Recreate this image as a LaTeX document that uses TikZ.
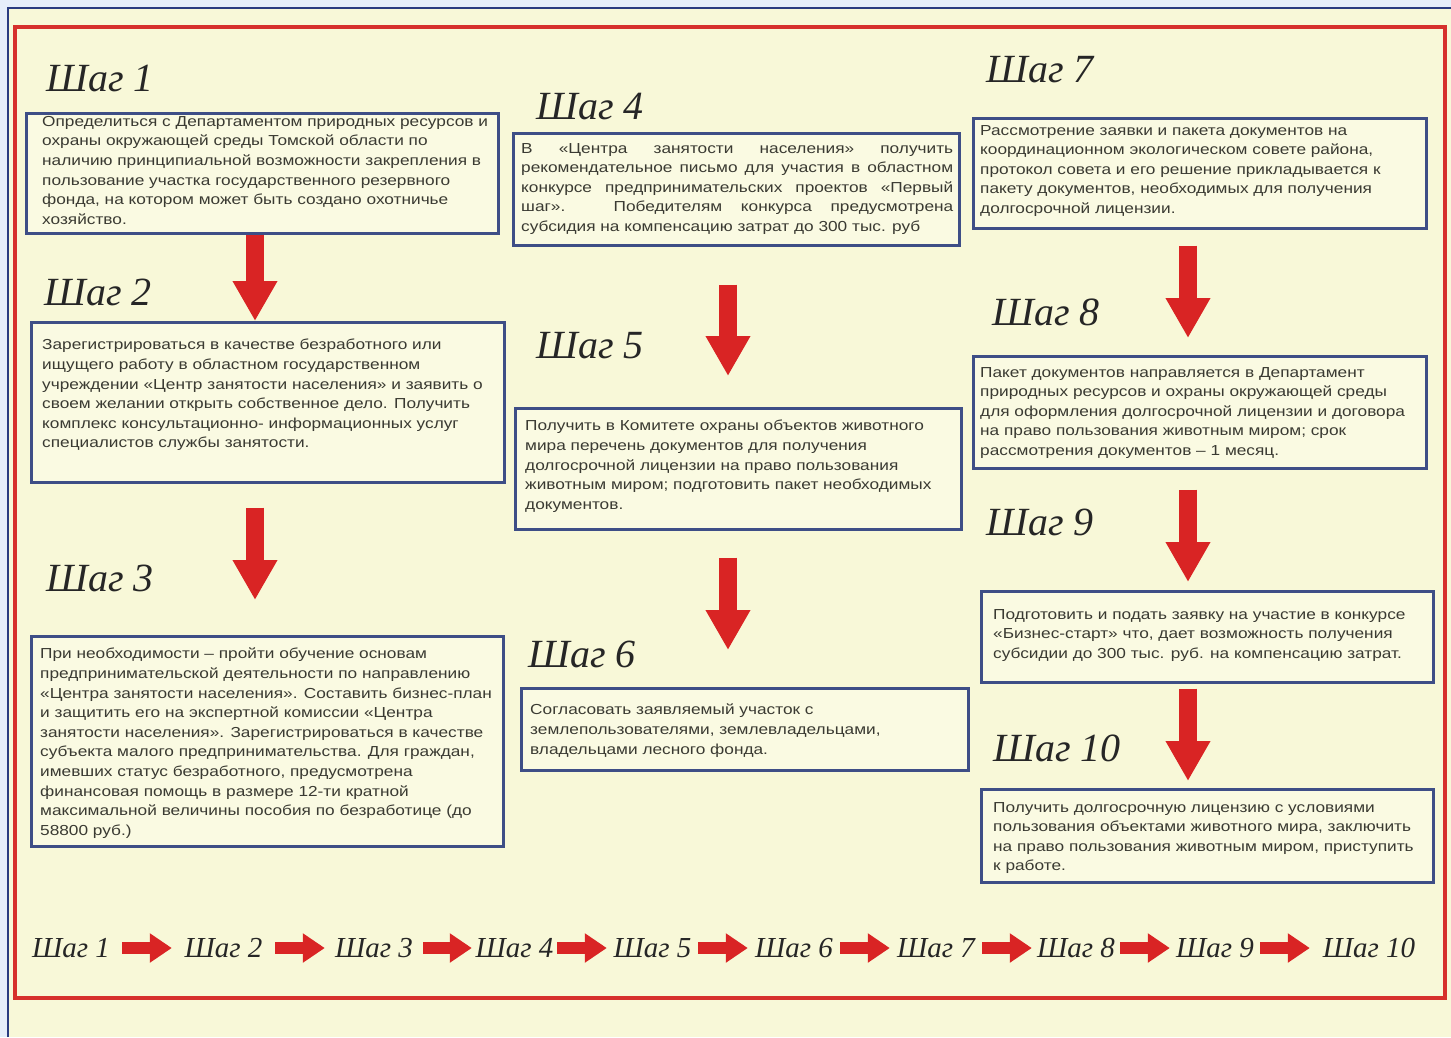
\documentclass[tikz,border=0pt]{standalone}
\usepackage{fontspec}
\setmainfont{Liberation Sans}
\newfontfamily\boxfont{Liberation Sans}[FakeStretch=1.19]
\newfontfamily\hand{Liberation Serif}
\usetikzlibrary{arrows.meta}
\definecolor{bgblue}{HTML}{E6EEFA}
\definecolor{cream}{HTML}{F8F8D8}
\definecolor{boxfill}{HTML}{FAFAE2}
\definecolor{boxblue}{HTML}{3E4E86}
\definecolor{framered}{HTML}{D6302C}
\definecolor{arrowred}{HTML}{D92424}
\definecolor{txt}{HTML}{3A3A32}
\definecolor{navy}{HTML}{2A3C80}
\tikzset{
  stepbox/.style={draw=boxblue, line width=2.6pt, fill=boxfill, inner sep=0pt, anchor=north west},
  boxtext/.style={anchor=north west, inner sep=0pt, align=left, text=txt, font=\boxfont\fontsize{14.5}{19.6}\selectfont},
  steplabel/.style={font=\hand\itshape\fontsize{40}{40}\selectfont, text=black!85, inner sep=0pt},
  rowlabel/.style={font=\hand\itshape\fontsize{29}{29}\selectfont, text=black!85, inner sep=0pt, minimum height=30pt},
  downarrow/.style={draw=arrowred, line width=18pt, -{Triangle[width=42pt,length=40pt]}},
  rightarrow/.style={draw=arrowred, line width=12pt, -{Triangle[width=28pt,length=22pt]}}
}
\begin{document}
\begin{tikzpicture}[x=1pt,y=-1pt]
\useasboundingbox (0,0) rectangle (1451,1037);
% backgrounds
\fill[bgblue] (0,0) rectangle (1451,1037);
\fill[cream] (8,8) rectangle (1451,1037);
\draw[navy, line width=1.5pt] (8,1037) -- (8,8) -- (1451,8);
\draw[framered, line width=3.5pt] (15,27) rectangle (1445,998);

% boxes
\node[stepbox, minimum width=472pt, minimum height=120pt] (b1) at (25,112) {};
\node[stepbox, minimum width=473pt, minimum height=160pt] (b2) at (30,321) {};
\node[stepbox, minimum width=472pt, minimum height=210pt] (b3) at (30,635) {};
\node[stepbox, minimum width=446pt, minimum height=112pt] (b4) at (512,132) {};
\node[stepbox, minimum width=446pt, minimum height=121pt] (b5) at (514,407) {};
\node[stepbox, minimum width=447pt, minimum height=82pt] (b6) at (520,687) {};
\node[stepbox, minimum width=453pt, minimum height=110pt] (b7) at (972,117) {};
\node[stepbox, minimum width=453pt, minimum height=112pt] (b8) at (972,355) {};
\node[stepbox, minimum width=452pt, minimum height=91pt] (b9) at (980,590) {};
\node[stepbox, minimum width=452pt, minimum height=93pt] (b10) at (980,788) {};

% texts
\node[boxtext] (t1) at (42,116) {Определиться с Департаментом природных ресурсов и\\охраны окружающей среды Томской области по\\наличию принципиальной возможности закрепления в\\пользование участка государственного резервного\\фонда, на котором может быть создано охотничье\\хозяйство.};
\node[boxtext] (t2) at (42,339) {Зарегистрироваться в качестве безработного или\\ищущего работу в областном государственном\\учреждении «Центр занятости населения» и заявить о\\своем желании открыть собственное дело. Получить\\комплекс консультационно- информационных услуг\\специалистов службы занятости.};
\node[boxtext] (t3) at (40,648) {При необходимости – пройти обучение основам\\предпринимательской деятельности по направлению\\«Центра занятости населения». Составить бизнес-план\\и защитить его на экспертной комиссии «Центра\\занятости населения». Зарегистрироваться в качестве\\субъекта малого предпринимательства. Для граждан,\\имевших статус безработного, предусмотрена\\финансовая помощь в размере 12-ти кратной\\максимальной величины пособия по безработице (до\\58800 руб.)};
\node[boxtext] (t4) at (521,143) {\makebox[432pt][s]{В «Центра занятости населения» получить}\\\makebox[432pt][s]{рекомендательное письмо для участия в областном}\\\makebox[432pt][s]{конкурсе предпринимательских проектов «Первый}\\\makebox[432pt][s]{шаг». Победителям конкурса предусмотрена}\\субсидия на компенсацию затрат до 300 тыс. руб};
\node[boxtext] (t5) at (525,420) {Получить в Комитете охраны объектов животного\\мира перечень документов для получения\\долгосрочной лицензии на право пользования\\животным миром; подготовить пакет необходимых\\документов.};
\node[boxtext] (t6) at (530,704) {Согласовать заявляемый участок с\\землепользователями, землевладельцами,\\владельцами лесного фонда.};
\node[boxtext] (t7) at (980,125) {Рассмотрение заявки и пакета документов на\\координационном экологическом совете района,\\протокол совета и его решение прикладывается к\\пакету документов, необходимых для получения\\долгосрочной лицензии.};
\node[boxtext] (t8) at (980,367) {Пакет документов направляется в Департамент\\природных ресурсов и охраны окружающей среды\\для оформления долгосрочной лицензии и договора\\на право пользования животным миром; срок\\рассмотрения документов – 1 месяц.};
\node[boxtext] (t9) at (993,609) {Подготовить и подать заявку на участие в конкурсе\\«Бизнес-старт» что, дает возможность получения\\субсидии до 300 тыс. руб. на компенсацию затрат.};
\node[boxtext] (t10) at (993,802) {Получить долгосрочную лицензию с условиями\\пользования объектами животного мира, заключить\\на право пользования животным миром, приступить\\к работе.};

% step labels
\node[steplabel] (l1) at (100,78) {Шаг 1};
\node[steplabel] (l2) at (98,292) {Шаг 2};
\node[steplabel] (l3) at (100,578) {Шаг 3};
\node[steplabel] (l4) at (590,107) {Шаг 4};
\node[steplabel] (l5) at (590,346) {Шаг 5};
\node[steplabel] (l6) at (582,654) {Шаг 6};
\node[steplabel] (l7) at (1040,70) {Шаг 7};
\node[steplabel] (l8) at (1046,312) {Шаг 8};
\node[steplabel] (l9) at (1040,522) {Шаг 9};
\node[steplabel] (l10) at (1057,748) {Шаг 10};

% vertical arrows
\coordinate (cL) at (255,0);
\coordinate (cM) at (728,0);
\coordinate (cR) at (1188,0);
\draw[downarrow] (b1.south -| cL) -- (b2.north -| cL);
\draw[downarrow, shorten <=24pt, shorten >=35pt] (b2.south -| cL) -- (b3.north -| cL);
\draw[downarrow, shorten <=38pt, shorten >=31pt] (b4.south -| cM) -- (b5.north -| cM);
\draw[downarrow, shorten <=27pt, shorten >=37pt] (b5.south -| cM) -- (b6.north -| cM);
\draw[downarrow, shorten <=16pt, shorten >=17pt] (b7.south -| cR) -- (b8.north -| cR);
\draw[downarrow, shorten <=20pt, shorten >=8pt] (b8.south -| cR) -- (b9.north -| cR);
\draw[downarrow, shorten <=5pt, shorten >=7pt] (b9.south -| cR) -- (b10.north -| cR);

% bottom row
\node[rowlabel, minimum width=102pt] (s1) at (71,948) {Шаг 1};
\node[rowlabel, minimum width=103pt] (s2) at (223.5,948) {Шаг 2};
\node[rowlabel, minimum width=98pt] (s3) at (374,948) {Шаг 3};
\node[rowlabel, minimum width=85pt] (s4) at (514.5,948) {Шаг 4};
\node[rowlabel, minimum width=91pt] (s5) at (652.5,948) {Шаг 5};
\node[rowlabel, minimum width=92pt] (s6) at (794,948) {Шаг 6};
\node[rowlabel, minimum width=92pt] (s7) at (936,948) {Шаг 7};
\node[rowlabel, minimum width=88pt] (s8) at (1076,948) {Шаг 8};
\node[rowlabel, minimum width=90pt] (s9) at (1215,948) {Шаг 9};
\node[rowlabel, minimum width=118pt] (s10) at (1369,948) {Шаг 10};
\foreach \i/\j in {1/2,2/3,3/4,4/5,5/6,6/7,7/8,8/9,9/10}
  \draw[rightarrow] (s\i.east) -- (s\j.west);
\end{tikzpicture}
\end{document}
